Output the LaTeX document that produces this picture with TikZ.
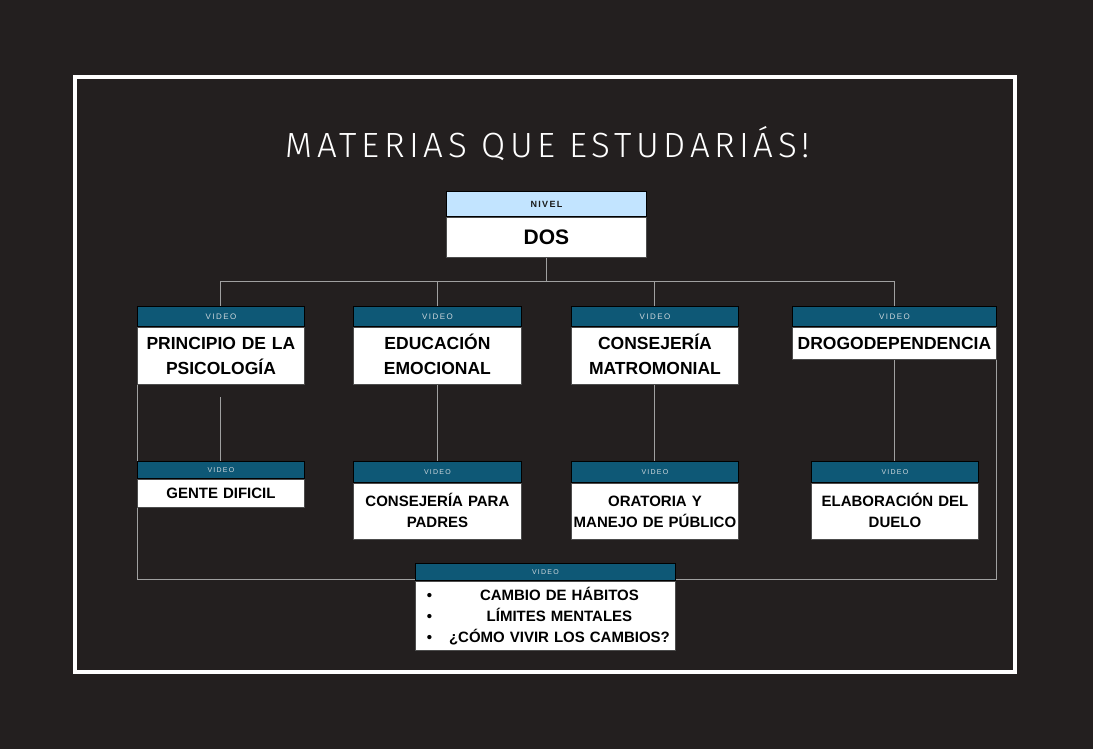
\documentclass[tikz,border=0pt]{standalone}
\usepackage{fontspec}
\setmainfont{Liberation Sans}
\newfontfamily\titlefont{Fira Sans Light}[LetterSpace=13]
\newfontfamily\vidfont{Liberation Sans}[LetterSpace=18]
\newfontfamily\nivfont{Liberation Sans}[LetterSpace=15]
\pgfdeclarelayer{bglayer}
\pgfdeclarelayer{connlayer}
\pgfsetlayers{bglayer,connlayer,main}
\definecolor{bgcol}{RGB}{35,31,31}
\definecolor{teal0}{RGB}{14,88,118}
\definecolor{lblue}{RGB}{194,228,255}
\definecolor{lgray}{RGB}{160,160,160}
\definecolor{vidtxt}{RGB}{205,215,220}
\tikzset{
  hdr/.style={anchor=north west, inner sep=0pt, fill=teal0, draw=black, line width=0.9pt, text=vidtxt, font=\vidfont\fontsize{8}{8}\selectfont},
  hdrs/.style={hdr, font=\vidfont\fontsize{7}{7}\selectfont},
  bodybox/.style={anchor=north west, inner sep=0pt, fill=white, draw=black!70, line width=0.9pt, align=center, text=black},
  bigbody/.style={bodybox, font=\bfseries\fontsize{17.5}{24.5}\selectfont},
  smallbody/.style={bodybox, font=\bfseries\fontsize{15}{21}\selectfont},
  conn/.style={draw=lgray, line width=1pt},
}
\begin{document}
\begin{tikzpicture}[x=1pt,y=-1pt]
\begin{pgfonlayer}{bglayer}
\fill[bgcol] (0,0) rectangle (1093,749);
\draw[white, line width=4pt] (75,77) rectangle (1015,672);
\end{pgfonlayer}

\node[text=white, font=\titlefont\fontsize{35}{35}\selectfont, anchor=base] (title) at (548,157.5) {MATERIAS QUE ESTUDARIÁS!};

% top
\node[hdr, fill=lblue, text=black!90, font=\nivfont\bfseries\fontsize{9}{9}\selectfont, minimum width=200pt, minimum height=25pt] (nivel) at (446,191) {NIVEL};
\node[bodybox, font=\bfseries\fontsize{21}{21}\selectfont, minimum width=200pt, text width=200pt, minimum height=40pt] (dos) at (nivel.south west) {DOS};

% level 2
\node[hdr, minimum width=167pt, minimum height=20pt] (h1) at (137,306) {VIDEO};
\node[bigbody, minimum width=167pt, text width=167pt, minimum height=57pt] (b1) at (h1.south west) {PRINCIPIO DE LA\\PSICOLOGÍA};
\node[hdr, minimum width=168pt, minimum height=20pt] (h2) at (353,306) {VIDEO};
\node[bigbody, minimum width=168pt, text width=168pt, minimum height=57pt] (b2) at (h2.south west) {EDUCACI\smash{Ó}N\\EMOCIONAL};
\node[hdr, minimum width=167pt, minimum height=20pt] (h3) at (571,306) {VIDEO};
\node[bigbody, minimum width=167pt, text width=167pt, minimum height=57pt] (b3) at (h3.south west) {CONSEJER\smash{Í}A\\MATROMONIAL};
\node[hdr, minimum width=204pt, minimum height=20pt] (h4) at (792,306) {VIDEO};
\node[bigbody, minimum width=204pt, text width=204pt, minimum height=32pt] (b4) at (h4.south west) {DROGODEPENDENCIA};

% level 3
\node[hdrs, minimum width=167pt, minimum height=17pt] (h5) at (137,461) {VIDEO};
\node[smallbody, minimum width=167pt, text width=167pt, minimum height=28pt] (b5) at (h5.south west) {GENTE DIFICIL};
\node[hdrs, minimum width=168pt, minimum height=21pt] (h6) at (353,461) {VIDEO};
\node[smallbody, minimum width=168pt, text width=168pt, minimum height=56pt] (b6) at (h6.south west) {CONSEJER\smash{Í}A PARA\\PADRES};
\node[hdrs, minimum width=167pt, minimum height=21pt] (h7) at (571,461) {VIDEO};
\node[smallbody, minimum width=167pt, text width=167pt, minimum height=56pt] (b7) at (h7.south west) {ORATORIA Y\\MANEJO DE PÚBLICO};
\node[hdrs, minimum width=167pt, minimum height=21pt] (h8) at (811,461) {VIDEO};
\node[smallbody, minimum width=167pt, text width=167pt, minimum height=56pt] (b8) at (h8.south west) {ELABORACI\smash{Ó}N DEL\\DUELO};

% bottom
\node[hdrs, minimum width=260pt, minimum height=17pt] (h9) at (415,563) {VIDEO};
\node[smallbody, minimum width=260pt, text width=260pt, minimum height=69pt] (b9) at (h9.south west) {\makebox[28pt]{•}\makebox[232pt]{CAMBIO DE H\smash{Á}BITOS}\\\makebox[28pt]{•}\makebox[232pt]{LÍMITES MENTALES}\\\makebox[28pt]{•}\makebox[232pt]{\smash{¿}CÓMO VIVIR LOS CAMBIOS?}};

\begin{pgfonlayer}{connlayer}
\coordinate (hl) at (0,281);
\coordinate (g1) at (0,397);
\coordinate (brk) at (0,579);
\draw[conn] (dos.south) -- (dos.south |- hl);
\draw[conn] (h1.north |- hl) -- (h4.north |- hl);
\foreach \n in {h1,h2,h3,h4} \draw[conn] (\n.north |- hl) -- (\n.north);
\draw[conn] (h5.north |- g1) -- (h5.north);
\draw[conn] (b2.south) -- (b2.south |- h6.north);
\draw[conn] (b3.south) -- (b3.south |- h7.north);
\draw[conn] (b4.south) -- (b4.south |- h8.north);
\draw[conn] (b1.west) -- (b1.west |- brk) -- (b4.south east |- brk) -- (b4.south east);
\end{pgfonlayer}
\end{tikzpicture}
\end{document}
